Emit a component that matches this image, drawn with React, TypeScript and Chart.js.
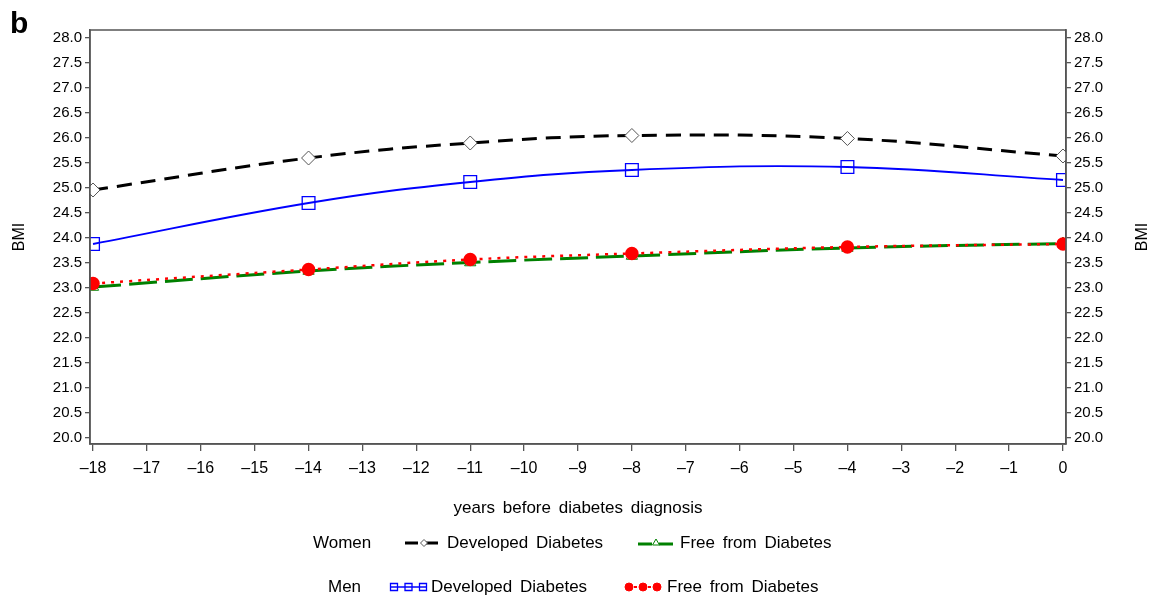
import React, { useEffect, useRef } from 'react';
import { Chart, registerables } from 'chart.js';

Chart.register(...registerables);

// ---- data ----
const years = [-18, -14, -11, -8, -4, 0];
const womenDeveloped = [24.96, 25.6, 25.9, 26.05, 25.99, 25.64];
const menDeveloped = [23.88, 24.7, 25.12, 25.36, 25.42, 25.16];
const womenFree = [23.02, 23.34, 23.51, 23.64, 23.8, 23.89];
const menFree = [23.09, 23.37, 23.57, 23.69, 23.82, 23.88];

const xTicks = [-18, -17, -16, -15, -14, -13, -12, -11, -10, -9, -8, -7, -6, -5, -4, -3, -2, -1, 0];
const yTicks = [20, 20.5, 21, 21.5, 22, 22.5, 23, 23.5, 24, 24.5, 25, 25.5, 26, 26.5, 27, 27.5, 28];

const xTitle = 'years before diabetes diagnosis';
const yTitle = 'BMI';
const panelLabel = 'b';
const groupLabels = ['Women', 'Men'];
const seriesLabels = ['Developed Diabetes', 'Free from Diabetes'];

const FONT = "'Liberation Sans', Arial, sans-serif";

const toPoints = (vals: number[]) => years.map((x, i) => ({ x, y: vals[i] }));

function drawMarker(ctx: CanvasRenderingContext2D, style: string, x: number, y: number, r: number, stroke: string, fill: string | null, lw = 1) {
  ctx.save();
  ctx.setLineDash([]);
  ctx.lineWidth = lw;
  ctx.strokeStyle = stroke;
  ctx.beginPath();
  if (style === 'rectRot') {
    ctx.moveTo(x - r, y);
    ctx.lineTo(x, y - r);
    ctx.lineTo(x + r, y);
    ctx.lineTo(x, y + r);
    ctx.closePath();
  } else if (style === 'rect') {
    ctx.rect(x - r, y - r, 2 * r, 2 * r);
  } else if (style === 'triangle') {
    ctx.moveTo(x, y - r);
    ctx.lineTo(x + r * 0.87, y + r * 0.5);
    ctx.lineTo(x - r * 0.87, y + r * 0.5);
    ctx.closePath();
  } else {
    ctx.arc(x, y, r, 0, Math.PI * 2);
  }
  if (fill) {
    ctx.fillStyle = fill;
    ctx.fill();
  }
  ctx.stroke();
  ctx.restore();
}

const extrasPlugin = {
  id: 'extras',
  afterDraw(chart: any) {
    const ctx: CanvasRenderingContext2D = chart.ctx;
    const a = chart.chartArea;
    ctx.save();
    // frame
    ctx.strokeStyle = '#555';
    ctx.lineWidth = 1.5;
    ctx.strokeRect(a.left, a.top, a.right - a.left, a.bottom - a.top);

    // panel label
    ctx.fillStyle = '#000';
    ctx.font = `bold 30px ${FONT}`;
    ctx.textAlign = 'left';
    ctx.textBaseline = 'alphabetic';
    ctx.fillText(panelLabel, 10, 33);

    // axis titles
    const midY = (a.top + a.bottom) / 2;
    ctx.font = `16px ${FONT}`;
    ctx.textAlign = 'center';
    ctx.textBaseline = 'middle';
    ctx.save();
    ctx.translate(20, midY);
    ctx.rotate(-Math.PI / 2);
    ctx.fillText(yTitle, 0, 0);
    ctx.restore();
    ctx.save();
    ctx.translate(1143, midY);
    ctx.rotate(-Math.PI / 2);
    ctx.fillText(yTitle, 0, 0);
    ctx.restore();

    ctx.font = `17px ${FONT}`;
    (ctx as any).wordSpacing = '3px';
    ctx.fillText(xTitle, (a.left + a.right) / 2, 508);

    // legend
    ctx.textAlign = 'left';
    const r1 = 543;
    const r2 = 587;
    ctx.fillText(groupLabels[0], 313, r1);
    ctx.fillText(groupLabels[1], 328, r2);
    ctx.fillText(seriesLabels[0], 447, r1);
    ctx.fillText(seriesLabels[1], 680, r1);
    ctx.fillText(seriesLabels[0], 431, r2);
    ctx.fillText(seriesLabels[1], 667, r2);

    // symbols
    // women developed: black dashed
    ctx.save();
    ctx.strokeStyle = '#000';
    ctx.lineWidth = 3;
    ctx.setLineDash([13, 7]);
    ctx.beginPath();
    ctx.moveTo(405, r1);
    ctx.lineTo(442, r1);
    ctx.stroke();
    ctx.restore();
    drawMarker(ctx, 'rectRot', 424, r1, 3.5, '#555', '#fff');
    // women free: green
    ctx.save();
    ctx.strokeStyle = '#008000';
    ctx.lineWidth = 3;
    ctx.setLineDash([14, 7]);
    ctx.beginPath();
    ctx.moveTo(638, r1 + 1);
    ctx.lineTo(674, r1 + 1);
    ctx.stroke();
    ctx.restore();
    drawMarker(ctx, 'triangle', 656, r1, 4, '#008000', '#fff');
    // men developed: blue squares
    ctx.save();
    ctx.strokeStyle = '#0000ff';
    ctx.lineWidth = 1.5;
    ctx.beginPath();
    ctx.moveTo(390, r2);
    ctx.lineTo(427, r2);
    ctx.stroke();
    ctx.restore();
    [394, 408.5, 423].forEach((x) => drawMarker(ctx, 'rect', x, r2, 3.5, '#0000ff', null, 1.3));
    // men free: red circles
    ctx.save();
    ctx.strokeStyle = '#ff0000';
    ctx.lineWidth = 2;
    ctx.setLineDash([3, 4]);
    ctx.beginPath();
    ctx.moveTo(627, r2);
    ctx.lineTo(659, r2);
    ctx.stroke();
    ctx.restore();
    [629, 643, 657].forEach((x) => drawMarker(ctx, 'circle', x, r2, 4, '#ff0000', '#ff0000'));

    ctx.restore();
  },
};

export default function App() {
  const ref = useRef<HTMLCanvasElement | null>(null);

  useEffect(() => {
    if (!ref.current) return;
    const fmtX = (v: number) => (v < 0 ? '\u2013' + Math.abs(v) : String(v));
    const yAxisCommon = {
      type: 'linear' as const,
      min: 19.88,
      max: 28.16,
      afterBuildTicks: (s: any) => {
        s.ticks = yTicks.map((v) => ({ value: v }));
      },
      grid: { drawOnChartArea: false, drawTicks: true, tickLength: 5, color: '#555', lineWidth: 1.3 },
      border: { display: true, color: '#555', width: 1.5 },
      ticks: {
        color: '#000',
        font: { family: FONT, size: 15 },
        padding: 3,
        callback: (v: any) => Number(v).toFixed(1),
      },
    };

    const chart = new Chart(ref.current, {
      type: 'line',
      data: {
        datasets: [
          {
            label: 'Men Free from Diabetes',
            data: toPoints(menFree),
            borderColor: '#ff0000',
            borderWidth: 2.5,
            borderDash: [3, 6],
            pointStyle: 'circle',
            pointRadius: 5.5,
            pointBackgroundColor: '#ff0000',
            pointBorderColor: '#ff0000',
            tension: 0.4,
            order: 0,
            fill: false,
          },
          {
            label: 'Women Free from Diabetes',
            data: toPoints(womenFree),
            borderColor: '#008000',
            borderWidth: 3,
            borderDash: [28, 8],
            pointStyle: 'triangle',
            pointRadius: 6.5,
            pointBackgroundColor: 'rgba(0,0,0,0)',
            pointBorderColor: '#008000',
            pointBorderWidth: 1,
            tension: 0.4,
            order: 1,
            fill: false,
          },
          {
            label: 'Men Developed Diabetes',
            data: toPoints(menDeveloped),
            borderColor: '#0000ff',
            borderWidth: 1.8,
            pointStyle: 'rect',
            pointRadius: 9,
            pointBackgroundColor: 'rgba(0,0,0,0)',
            pointBorderColor: '#0000ff',
            pointBorderWidth: 1.3,
            tension: 0.4,
            order: 2,
            fill: false,
          },
          {
            label: 'Women Developed Diabetes',
            data: toPoints(womenDeveloped),
            borderColor: '#000000',
            borderWidth: 3,
            borderDash: [15, 9],
            pointStyle: 'rectRot',
            pointRadius: 7,
            pointBackgroundColor: '#ffffff',
            pointBorderColor: '#555',
            pointBorderWidth: 1,
            tension: 0.4,
            order: 3,
            fill: false,
          },
        ],
      },
      options: {
        responsive: false,
        animation: false,
        layout: { padding: { top: 30, left: 0, right: 0, bottom: 0 } },
        plugins: { legend: { display: false }, tooltip: { enabled: false }, title: { display: false } },
        scales: {
          x: {
            type: 'linear',
            min: -18.056,
            max: 0.056,
            afterBuildTicks: (s: any) => {
              s.ticks = xTicks.map((v) => ({ value: v }));
            },
            afterFit: (s: any) => {
              s.height = 155;
            },
            grid: { drawOnChartArea: false, drawTicks: true, tickLength: 7, color: '#555', lineWidth: 1.3 },
            border: { display: true, color: '#555', width: 1.5 },
            ticks: {
              color: '#000',
              font: { family: FONT, size: 16 },
              padding: 8,
              maxRotation: 0,
              autoSkip: false,
              callback: (v: any) => fmtX(Number(v)),
            },
          },
          y: {
            ...yAxisCommon,
            position: 'left',
            afterFit: (s: any) => {
              s.width = 90;
            },
          },
          y2: {
            ...yAxisCommon,
            position: 'right',
            afterFit: (s: any) => {
              s.width = 90;
            },
          },
        },
      } as any,
      plugins: [extrasPlugin],
    });
    return () => chart.destroy();
  }, []);

  return (
    <div style={{ position: 'fixed', left: 0, top: 0, width: 1156, height: 599, background: '#fff' }}>
      <canvas ref={ref} width={1156} height={599} style={{ width: 1156, height: 599, display: 'block' }} />
    </div>
  );
}
